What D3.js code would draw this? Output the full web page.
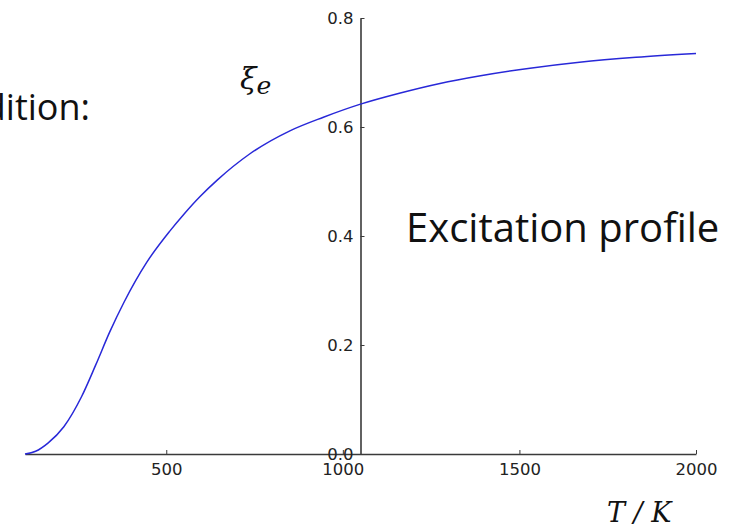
<!DOCTYPE html>
<html>
<head>
<meta charset="utf-8">
<script src="https://cdn.jsdelivr.net/npm/d3@7"></script>
<style>
  html, body { margin: 0; padding: 0; background: #fff; overflow: hidden; }
  svg { display: block; }
</style>
</head>
<body>
<svg id="chart" width="740" height="528"></svg>
<script>
// Temperature (K) and excited-state fraction
const temperature = [100, 130, 165, 210, 260, 300, 340, 380, 445, 510, 550, 595, 645, 735, 850, 945, 1050, 1160, 1275, 1390, 1530, 1670, 1830, 2000];
const excitation  = [0.000, 0.005, 0.020, 0.050, 0.105, 0.163, 0.224, 0.278, 0.352, 0.409, 0.440, 0.472, 0.503, 0.550, 0.593, 0.618, 0.642, 0.662, 0.680, 0.694, 0.708, 0.719, 0.728, 0.735];

const xTicks = [500, 1000, 1500, 2000];
const yTicks = [0.0, 0.2, 0.4, 0.6, 0.8];

const svg = d3.select("#chart");

const x = d3.scaleLinear().domain([100, 2000]).range([25, 696]);
const y = d3.scaleLinear().domain([0, 0.8]).range([454, 18]);

// spines sit at the middle of the T range and at zero
const spineX = x((100 + 2000) / 2);
const spineY = y(0);

const tickFont = "'DejaVu Sans', sans-serif";

// x axis (ticks point inward)
const gx = svg.append("g")
  .attr("transform", `translate(0,${spineY})`)
  .call(d3.axisBottom(x).tickValues(xTicks).tickSizeInner(-4).tickSizeOuter(0).tickPadding(9).tickFormat(d3.format("d")));

// y axis
const gy = svg.append("g")
  .attr("transform", `translate(${spineX},0)`)
  .call(d3.axisLeft(y).tickValues(yTicks).tickSizeInner(-4).tickSizeOuter(0).tickPadding(7).tickFormat(d3.format(".1f")));

[gx, gy].forEach(g => {
  g.attr("font-size", null).attr("font-family", null);
  g.select(".domain").attr("stroke", "#3a3a3a").attr("stroke-width", 1.6);
  g.selectAll(".tick line").attr("stroke", "#3a3a3a").attr("stroke-width", 1);
  g.selectAll(".tick text")
    .style("font-family", tickFont)
    .style("font-size", "16.5px")
    .attr("fill", "#222");
});

// excitation curve
const line = d3.line()
  .x((d, i) => x(temperature[i]))
  .y(d => y(d))
  .curve(d3.curveMonotoneX);

svg.append("path")
  .datum(excitation)
  .attr("d", line)
  .attr("fill", "none")
  .attr("stroke", "#2828d8")
  .attr("stroke-width", 1.5);

// slide text
const sans = "'Open Sans', 'Noto Sans', sans-serif";
svg.append("text")
  .attr("x", 90).attr("y", 120)
  .attr("text-anchor", "end")
  .attr("font-family", sans)
  .attr("font-size", 36)
  .attr("fill", "#111")
  .text("Condition:");

svg.append("text")
  .attr("x", 406).attr("y", 242)
  .attr("font-family", sans)
  .attr("font-size", 40)
  .attr("fill", "#111")
  .text("Excitation profile");

// axis symbols
const serif = "'DejaVu Serif', 'Liberation Serif', serif";
const xi = svg.append("text")
  .attr("x", 240).attr("y", 89)
  .attr("font-family", serif)
  .attr("font-style", "italic")
  .attr("font-size", 30)
  .attr("fill", "#111");
xi.append("tspan").text("ξ");
xi.append("tspan").attr("font-size", 25).attr("dy", 5).text("e");

svg.append("text")
  .attr("x", 607).attr("y", 522)
  .attr("font-family", serif)
  .attr("font-style", "italic")
  .attr("font-size", 27)
  .attr("fill", "#111")
  .attr("xml:space", "preserve")
  .text("T / K");
</script>
</body>
</html>
